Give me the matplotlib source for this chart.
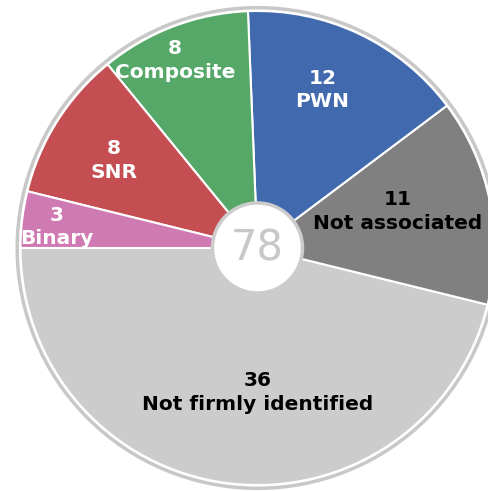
import matplotlib
matplotlib.use('Agg')
import matplotlib.pyplot as plt
import numpy as np

# counts, in drawing order (counter-clockwise from 9 o'clock)
names = ['Not firmly identified', 'Not associated', 'PWN', 'Composite', 'SNR', 'Binary']
counts = [36, 11, 12, 8, 8, 3]
colors = ['#cccccc', '#808080', '#4169ae', '#55a868', '#c44e52', '#cf7ab2']
text_colors = ['black', 'black', 'white', 'white', 'white', 'white']

# label radius / angle nudge (deg) per wedge
lab_r = [0.61, 0.61, 0.72, 0.865, 0.71, 0.85]
lab_da = [7, 3, 3, 3, 1, 1]

fig = plt.figure(figsize=(4.89, 4.91), dpi=100)
ax = fig.add_axes([0, 0, 1, 1])

wedges, _ = ax.pie(counts, colors=colors, startangle=180, counterclock=True,
                   radius=1.0, wedgeprops=dict(edgecolor='white', linewidth=1.5))

for w, n, c, tc, r, da in zip(wedges, names, counts, text_colors, lab_r, lab_da):
    ang = np.radians((w.theta1 + w.theta2) / 2 + da)
    ax.text(r * np.cos(ang), r * np.sin(ang), '%d\n%s' % (c, n), color=tc,
            ha='center', va='center', fontsize=14.5, fontweight='bold', linespacing=1.3)

# outer ring + centre disc with total
ax.add_patch(plt.Circle((0, 0), 1.014, fill=False, edgecolor='#c8c8c8', lw=2.5))
ax.add_patch(plt.Circle((0, 0), 0.19, facecolor='white', edgecolor='#cccccc', lw=2.5, zorder=5))
ax.text(0, 0, str(sum(counts)), ha='center', va='center', fontsize=30,
        color='#c8c8c8', zorder=6)

ax.set_aspect('auto')
ax.set_xlim(-1.0865, 0.977)
ax.set_ylim(-1.0253, 1.0464)
ax.axis('off')

plt.savefig('out.png', dpi=100)
